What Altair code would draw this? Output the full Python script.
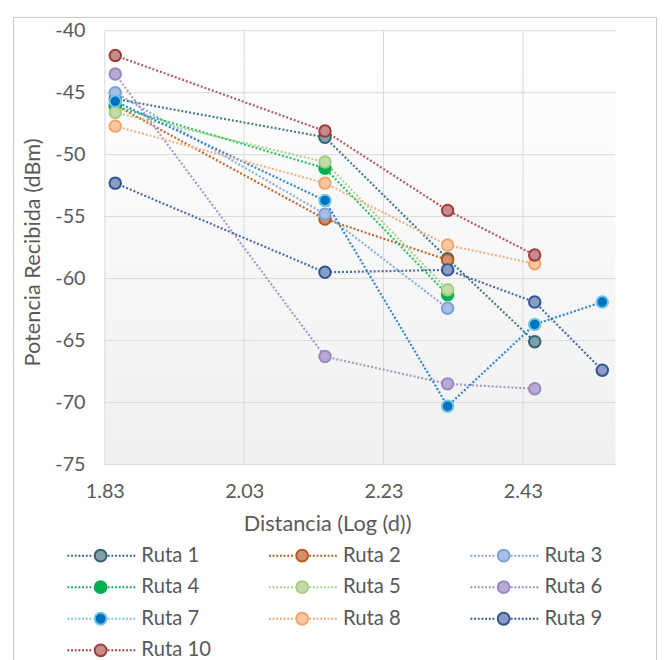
import altair as alt
import pandas as pd

# ---- data ----
series_names = ["Ruta 1", "Ruta 2", "Ruta 3", "Ruta 4", "Ruta 5",
                "Ruta 6", "Ruta 7", "Ruta 8", "Ruta 9", "Ruta 10"]
log_d = [1.845, 2.146, 2.322, 2.447, 2.544]

ruta_1 = [-45.5, -48.6, -58.4, -65.1, None]
ruta_2 = [-46.0, -55.2, -58.5, None, None]
ruta_3 = [-45.0, -54.8, -62.4, None, None]
ruta_4 = [-46.1, -51.1, -61.3, None, None]
ruta_5 = [-46.6, -50.6, -60.9, None, None]
ruta_6 = [-43.5, -66.3, -68.5, -68.9, None]
ruta_7 = [-45.7, -53.7, -70.3, -63.7, -61.9]
ruta_8 = [-47.7, -52.3, -57.3, -58.8, None]
ruta_9 = [-52.3, -59.5, -59.3, -61.9, -67.4]
ruta_10 = [-42.0, -48.1, -54.5, -58.1, None]

all_series = [ruta_1, ruta_2, ruta_3, ruta_4, ruta_5,
              ruta_6, ruta_7, ruta_8, ruta_9, ruta_10]

x_ticks = [1.83, 2.03, 2.23, 2.43]
y_ticks = [-40, -45, -50, -55, -60, -65, -70, -75]

# ---- styles ----
line_colors = ["#3F7C87", "#C0682C", "#8CADE0", "#2DBF64", "#A9D18E",
               "#A898C8", "#2F86D0", "#F4B183", "#4A6CAB", "#B55858"]
fill_colors = ["#82A0A6", "#D4906E", "#A6BFE4", "#00B050", "#C4DBA8",
               "#B8AAD4", "#0070C0", "#F9C8A2", "#8A9DC0", "#C48A8C"]
edge_colors = ["#2E6470", "#B85A18", "#7B9FD6", "#00B050", "#A5CB85",
               "#9B87C0", "#6FC6E6", "#F4A46A", "#2F5597", "#A23A3A"]

rows = []
for name, vals in zip(series_names, all_series):
    for xv, yv in zip(log_d, vals):
        if yv is not None:
            rows.append({"serie": name, "logd": xv, "dbm": yv})
df = pd.DataFrame(rows)
xgrid_df = pd.DataFrame({"v": x_ticks})
ygrid_df = pd.DataFrame({"v": y_ticks})

W, H = 517, 439
TEXT = "#595959"
FONT = "Lato"
GRID = "#D9D9D9"
FRAME = "#C8C8C8"


# legend symbol: dotted line through a circle (unit-radius circle)
def dots(a, b, period=0.62, length=0.31):
    out = []
    v = a
    while v + length <= b + 1e-9:
        out.append(f"M{v:.3f},0h{length}")
        v += period
    return "".join(out)


legend_path = ("M1,0A1,1,0,1,1,-1,0A1,1,0,1,1,1,0Z"
               + dots(-5.6, -1.1) + dots(1.2, 5.9))

xscale = alt.Scale(domain=[1.83, 2.563], nice=False, zero=False)
yscale = alt.Scale(domain=[-75, -40], nice=False, zero=False)

x_enc = alt.X("logd:Q", scale=xscale,
              axis=alt.Axis(values=x_ticks, format=".2f", title="Distancia (Log (d))",
                            labelFlush=False,
                            titleX=225, titleY=60, titleBaseline="middle",
                            labelPadding=18, titleFontWeight="normal", grid=False))
y_enc = alt.Y("dbm:Q", scale=yscale,
              axis=alt.Axis(values=y_ticks, title="Potencia Recibida (dBm)",
                            labelExpr="toString(datum.value)",
                            titleX=-73, titleY=224, titleBaseline="middle",
                            titleAngle=-90, labelPadding=20, titleFontWeight="normal",
                            grid=False))

legend = alt.Legend(orient="none", legendX=-14.5, legendY=521, columns=3,
                    direction="horizontal",
                    title=None, symbolType=legend_path, symbolSize=144,
                    symbolStrokeWidth=2, labelOffset=31, gridAlign="all",
                    columnPadding=54, rowPadding=11)

dummy = pd.DataFrame({"k": [0]})

background = alt.Chart(dummy).mark_rect(
    fill=alt.LinearGradient(gradient="linear",
                            stops=[alt.GradientStop(color="#FFFFFF", offset=0),
                                   alt.GradientStop(color="#F0F0F0", offset=1)],
                            x1=0, x2=0, y1=0, y2=1)
).encode(x=alt.value(0), x2=alt.value(W), y=alt.value(0), y2=alt.value(H))

# outer chart frame (decoration)
frame_left = alt.Chart(dummy).mark_rule(color=FRAME, strokeWidth=1).encode(
    x=alt.value(-92.5), y=alt.value(-13.5), y2=alt.value(640))
frame_right = alt.Chart(dummy).mark_rule(color=FRAME, strokeWidth=1).encode(
    x=alt.value(558.5), y=alt.value(-13.5), y2=alt.value(640))
frame_top = alt.Chart(dummy).mark_rule(color=FRAME, strokeWidth=1).encode(
    y=alt.value(-13.5), x=alt.value(-92.5), x2=alt.value(558.5))

xgrid = alt.Chart(xgrid_df).mark_rule(color=GRID, strokeWidth=1).encode(
    x=alt.X("v:Q", scale=xscale))
ygrid = alt.Chart(ygrid_df).mark_rule(color=GRID, strokeWidth=1).encode(
    y=alt.Y("v:Q", scale=yscale))

lines = alt.Chart(df).mark_line(strokeDash=[2, 2], strokeWidth=2.2).encode(
    x=x_enc, y=y_enc,
    color=alt.Color("serie:N", sort=series_names, scale=alt.Scale(range=line_colors),
                    legend=None),
)

points = alt.Chart(df).mark_point(filled=True, size=135, strokeWidth=2, opacity=1).encode(
    x=x_enc, y=y_enc,
    fill=alt.Fill("serie:N", scale=alt.Scale(domain=series_names, range=fill_colors),
                  legend=legend),
    stroke=alt.Stroke("serie:N", scale=alt.Scale(domain=series_names, range=edge_colors),
                      legend=legend),
)

chart = alt.layer(background, xgrid, ygrid, lines, points,
                  frame_left, frame_right, frame_top).properties(
    width=W, height=H,
    autosize=alt.AutoSizeParams(type="none"),
    padding={"left": 98, "top": 19, "right": 44, "bottom": 194},
).configure_view(stroke=None).configure_axis(
    labelFont=FONT, labelFontSize=20, labelColor=TEXT,
    titleFont=FONT, titleFontSize=22, titleColor=TEXT,
    domain=False, ticks=False,
).configure_legend(
    labelFont=FONT, labelFontSize=20.5, labelColor=TEXT,
)

chart.save("out.html", embed_options={"renderer": "svg", "actions": False})
